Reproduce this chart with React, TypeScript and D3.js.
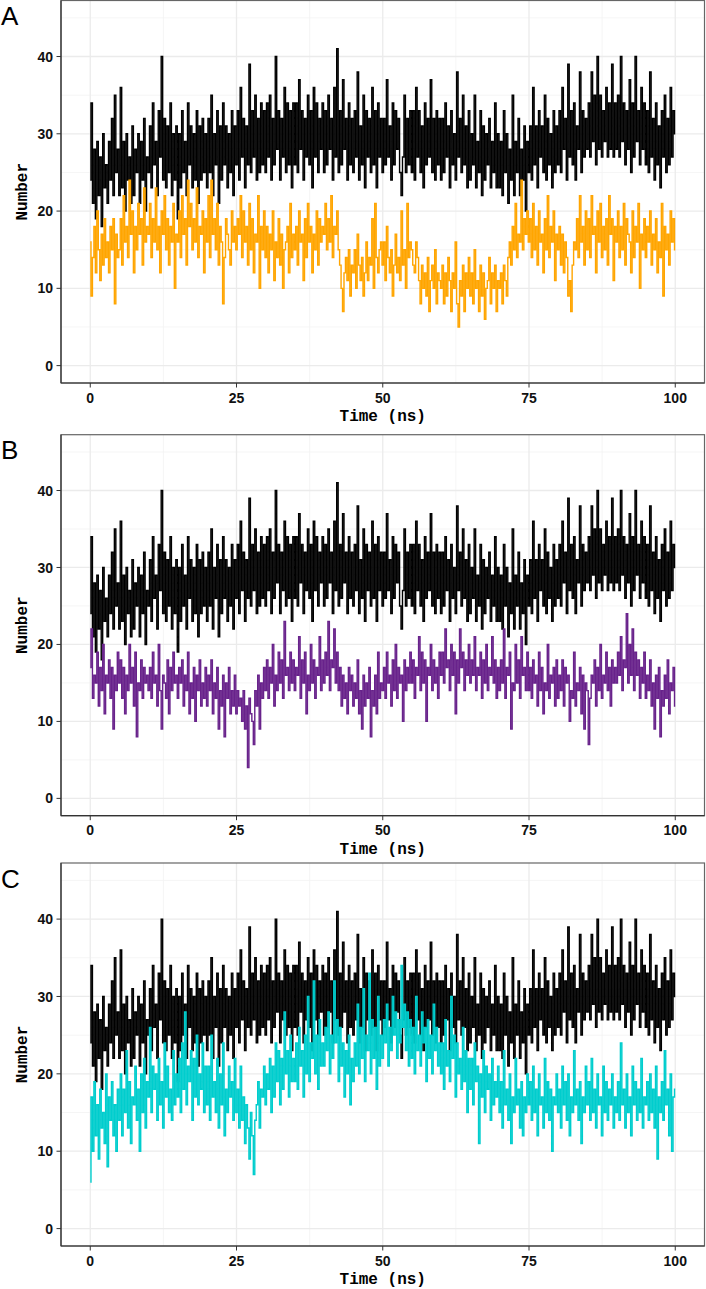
import React from 'react';
import * as d3 from 'd3';

// Time step between successive samples (ns)
const TIME_STEP = 0.25;

// Reference series (shared in all panels), values every 0.25 ns
const BLACK_SERIES = [
  24,34,21,28,19,29,22,27,18,30,23,26,21,29,24,32,22,35,25,28,
  22,36,23,29,20,30,24,27,21,31,22,28,25,30,21,29,24,32,20,27,
  25,31,23,34,26,29,22,33,27,40,24,32,23,31,25,34,22,30,24,31,
  19,30,23,33,25,29,22,34,26,31,23,30,24,33,21,31,24,32,25,30,
  23,32,25,35,22,30,26,33,21,31,24,34,26,31,23,30,25,33,22,31,
  26,33,24,36,27,32,23,31,26,39,25,33,27,35,24,32,25,34,26,33,
  25,34,27,35,24,32,26,40,28,33,24,32,27,36,25,34,26,33,23,34,
  26,34,25,37,28,33,24,32,27,35,26,33,23,36,27,34,25,32,28,34,
  25,33,26,35,28,32,24,36,27,41,25,33,26,37,28,32,24,34,26,32,
  25,33,27,38,24,31,26,35,23,33,27,32,25,36,26,33,23,34,27,32,
  25,32,26,37,27,31,24,34,26,33,28,32,25,22,27,35,25,32,26,33,
  25,33,24,36,27,33,25,31,23,34,26,32,27,37,25,32,24,33,26,32,
  24,32,25,34,27,31,23,33,26,30,24,38,27,32,25,35,26,31,23,33,
  24,30,26,35,23,29,25,33,22,31,24,30,26,32,23,29,25,34,23,30,
  23,29,22,33,25,30,21,28,24,35,22,29,25,32,22,28,24,31,20,29,
  25,31,24,36,26,31,23,33,27,31,25,35,24,32,26,30,23,33,25,31,
  26,33,25,36,28,32,24,39,27,33,26,34,24,31,28,38,25,33,27,32,
  28,34,27,38,29,35,26,40,28,35,27,33,29,36,27,34,28,39,27,34,
  28,35,27,40,29,34,26,33,28,37,25,34,27,40,29,33,26,36,28,34,
  26,33,25,38,27,32,24,34,26,31,23,33,27,35,25,32,26,36,27,33,
  30,
];

// Panel A series (orange)
const ORANGE_SERIES = [
  16,9,14,18,12,20,15,11,17,13,19,14,16,12,18,15,19,8,17,14,
  15,19,13,22,16,18,14,24,17,20,12,18,15,21,17,19,13,23,16,18,
  17,21,14,19,16,23,15,18,12,20,17,22,15,19,13,18,16,21,10,17,
  16,20,14,22,17,19,13,24,18,21,15,19,16,23,14,18,17,20,12,19,
  16,22,14,24,17,19,15,21,13,18,16,8,14,19,17,15,13,20,16,18,
  15,19,17,22,14,20,16,18,13,21,15,19,12,17,16,22,10,18,15,20,
  14,18,12,17,15,20,11,16,14,19,13,17,10,15,16,18,12,21,14,17,
  15,18,13,20,16,17,11,19,14,21,16,18,12,17,15,20,13,19,16,18,
  17,21,15,19,16,22,14,18,17,20,15,13,10,7,12,14,11,15,9,13,
  12,15,10,17,13,11,14,9,12,16,11,14,13,19,10,21,14,12,15,16,
  13,16,11,18,14,12,15,9,13,17,12,14,11,20,13,15,10,21,14,16,
  15,13,12,16,14,11,8,13,10,12,9,14,7,11,13,10,15,8,12,11,
  10,13,8,12,9,14,11,7,12,10,16,8,5,11,9,13,7,12,10,14,
  9,12,8,15,10,11,7,13,9,12,6,10,11,14,8,12,10,13,7,11,
  10,12,8,13,11,9,14,16,13,18,15,21,14,17,16,24,15,19,17,20,
  16,19,14,21,15,18,13,20,16,17,12,19,15,22,14,18,16,20,11,17,
  15,18,13,17,12,16,14,9,11,7,13,16,15,19,14,22,16,18,13,20,
  15,19,14,22,17,18,12,20,16,21,14,18,15,19,13,22,17,19,11,18,
  16,20,14,18,15,21,13,19,17,16,12,20,14,18,16,21,10,17,15,19,
  14,18,16,20,13,17,15,19,12,16,14,21,9,18,15,17,13,20,16,19,
  15,
];

// Panel B series (purple)
const PURPLE_SERIES = [
  17,22,13,16,15,19,12,17,14,20,11,16,15,18,13,17,9,16,14,19,
  15,18,13,17,11,16,14,20,15,17,12,19,8,15,14,18,13,17,15,16,
  14,17,13,19,15,16,12,20,14,9,16,15,13,18,11,17,14,19,15,16,
  13,17,15,18,12,16,14,19,11,15,13,17,10,16,14,18,12,15,13,17,
  12,16,14,18,11,15,13,17,9,14,12,16,8,15,13,17,11,14,12,16,
  11,14,12,13,10,14,9,12,4,13,11,10,7,14,12,16,9,15,13,17,
  14,18,13,17,15,20,12,16,14,19,15,18,13,23,16,17,14,19,15,18,
  14,17,16,21,13,18,15,19,11,16,14,20,15,18,13,17,16,21,14,18,
  15,19,16,23,14,18,17,22,15,19,14,17,12,16,13,15,11,17,14,16,
  12,15,13,18,11,14,9,16,12,15,13,17,8,14,12,16,11,19,13,15,
  14,17,13,19,15,16,12,18,14,20,13,17,15,16,10,18,14,17,15,19,
  15,18,13,17,16,21,14,19,15,18,10,17,16,20,14,18,15,17,13,19,
  16,19,15,22,17,18,14,20,16,19,11,18,15,22,17,19,14,18,16,20,
  15,18,16,21,14,17,16,19,13,18,15,20,14,17,16,21,15,18,13,17,
  14,18,15,22,13,17,16,19,9,15,14,20,15,18,13,21,16,17,14,19,
  14,17,13,18,15,16,12,19,14,17,11,15,14,20,13,16,15,17,12,18,
  13,16,14,18,12,17,15,16,10,14,13,19,12,15,14,17,11,16,9,15,
  14,7,13,16,15,18,12,17,14,20,13,16,15,19,14,17,12,18,15,17,
  15,19,16,21,14,18,17,24,15,20,16,22,14,19,16,18,13,17,15,19,
  13,16,14,18,12,15,9,16,13,17,8,14,12,16,13,18,11,15,14,17,
  12,
];

// Panel C series (cyan)
const CYAN_SERIES = [
  6,17,10,19,12,16,9,18,13,15,11,20,8,17,14,19,12,16,10,18,
  14,20,12,18,15,23,13,19,11,17,16,21,14,18,10,20,15,22,13,19,
  17,26,15,21,18,20,14,22,16,19,13,24,17,21,15,18,14,23,16,20,
  17,22,15,24,18,28,16,21,19,23,14,22,17,25,16,20,18,24,15,21,
  16,21,14,25,17,19,15,22,13,20,16,24,12,18,15,21,17,19,14,22,
  15,18,13,21,14,17,11,16,13,9,15,12,7,14,16,19,13,18,17,21,
  16,20,18,22,15,21,17,24,19,23,16,22,18,28,20,23,17,25,19,22,
  19,24,18,26,21,23,17,25,20,30,19,24,22,32,20,25,18,27,21,24,
  21,26,23,28,20,25,22,32,24,27,19,26,21,24,17,23,20,25,16,22,
  19,24,21,29,20,26,22,31,19,25,23,33,20,27,22,26,18,30,21,25,
  22,27,24,29,21,26,23,30,25,28,22,27,24,34,26,29,23,28,21,27,
  22,26,20,30,23,25,21,28,24,26,19,27,22,25,20,29,23,26,21,24,
  20,24,18,27,21,23,19,30,22,25,17,24,20,22,18,26,19,23,15,22,
  18,22,16,24,19,21,11,20,17,23,15,21,18,20,14,22,16,19,17,21,
  15,19,13,23,16,18,14,20,11,17,15,22,16,18,13,19,12,17,15,20,
  16,19,14,21,15,18,12,20,16,17,13,22,15,19,14,18,10,17,16,20,
  15,18,13,21,16,19,14,20,12,17,15,23,16,18,14,19,11,17,15,21,
  16,19,14,22,15,18,13,20,16,17,12,21,15,19,14,18,16,20,13,17,
  15,19,14,24,16,18,13,20,15,17,12,21,16,19,14,18,15,22,13,17,
  16,19,14,20,15,18,13,21,9,17,15,19,14,23,16,18,12,20,10,17,
  18,
];

const X_TICKS = [0, 25, 50, 75, 100];
const X_MINOR = [12.5, 37.5, 62.5, 87.5];
const Y_TICKS = [0, 10, 20, 30, 40];
const Y_MINOR = [5, 15, 25, 35, 45];
const X_DOMAIN = [-5, 105];
const Y_DOMAIN = [-2.25, 47.25];
const PANEL_LABELS = ['A', 'B', 'C'];
const SERIES_COLORS = ['#FFA500', '#68228B', '#00CDCD'];
const X_TITLE = 'Time (ns)';
const Y_TITLE = 'Number';

const W = 706;
const H = 1289;
const PLOT_LEFT = 61;
const PLOT_RIGHT = 704.5;
const PANEL_BOUNDS = [
  { top: 0.5, bottom: 383 },
  { top: 434.7, bottom: 815.7 },
  { top: 863, bottom: 1246 },
];

const MONO = '"Liberation Mono", "DejaVu Sans Mono", monospace';
const SANS = '"Liberation Sans", Arial, sans-serif';

type Pt = [number, number];

function toPoints(values: number[]): Pt[] {
  return values.map((v, i) => [i * TIME_STEP, v]);
}

function Panel({ idx, series }: { idx: number; series: number[] }) {
  const { top, bottom } = PANEL_BOUNDS[idx];
  const x = d3.scaleLinear().domain(X_DOMAIN).range([PLOT_LEFT, PLOT_RIGHT]);
  const y = d3.scaleLinear().domain(Y_DOMAIN).range([bottom, top]);
  const line = d3
    .line<Pt>()
    .x((d) => x(d[0]))
    .y((d) => y(d[1]))
    .curve(d3.curveStep);
  const blackPath = line(toPoints(BLACK_SERIES)) || '';
  const colorPath = line(toPoints(series)) || '';
  const midY = (top + bottom) / 2;
  const midX = (PLOT_LEFT + PLOT_RIGHT) / 2;
  const clipId = `clip-${idx}`;
  return (
    <g>
      <defs>
        <clipPath id={clipId}>
          <rect x={PLOT_LEFT} y={top} width={PLOT_RIGHT - PLOT_LEFT} height={bottom - top} />
        </clipPath>
      </defs>
      <rect x={PLOT_LEFT} y={top} width={PLOT_RIGHT - PLOT_LEFT} height={bottom - top} fill="#fff" />
      {X_MINOR.map((t) => (
        <line key={'xm' + t} x1={x(t)} x2={x(t)} y1={top} y2={bottom} stroke="#F2F2F2" strokeWidth={0.8} />
      ))}
      {Y_MINOR.map((t) => (
        <line key={'ym' + t} x1={PLOT_LEFT} x2={PLOT_RIGHT} y1={y(t)} y2={y(t)} stroke="#F2F2F2" strokeWidth={0.8} />
      ))}
      {X_TICKS.map((t) => (
        <line key={'xg' + t} x1={x(t)} x2={x(t)} y1={top} y2={bottom} stroke="#EBEBEB" strokeWidth={1.3} />
      ))}
      {Y_TICKS.map((t) => (
        <line key={'yg' + t} x1={PLOT_LEFT} x2={PLOT_RIGHT} y1={y(t)} y2={y(t)} stroke="#EBEBEB" strokeWidth={1.3} />
      ))}
      <g clipPath={`url(#${clipId})`}>
        <path d={blackPath} fill="none" stroke="#000" strokeWidth={1.4} strokeLinejoin="miter" />
        <path d={colorPath} fill="none" stroke={SERIES_COLORS[idx]} strokeWidth={1.4} strokeLinejoin="miter" />
      </g>
      <rect x={PLOT_LEFT} y={top} width={PLOT_RIGHT - PLOT_LEFT} height={bottom - top} fill="none" stroke="#666" strokeWidth={1.2} />
      <line x1={PLOT_LEFT} x2={PLOT_LEFT} y1={top} y2={bottom} stroke="#333" strokeWidth={1.2} />
      <line x1={PLOT_LEFT} x2={PLOT_RIGHT} y1={bottom} y2={bottom} stroke="#333" strokeWidth={1.2} />
      {Y_TICKS.map((t) => (
        <g key={'yt' + t}>
          <line x1={PLOT_LEFT - 4.5} x2={PLOT_LEFT} y1={y(t)} y2={y(t)} stroke="#333" strokeWidth={1} />
          <text x={PLOT_LEFT - 8} y={y(t)} dy="0.36em" textAnchor="end" fontFamily={SANS} fontWeight="bold" fontSize={14} fill="#111">
            {t}
          </text>
        </g>
      ))}
      {X_TICKS.map((t) => (
        <g key={'xt' + t}>
          <line x1={x(t)} x2={x(t)} y1={bottom} y2={bottom + 4.5} stroke="#333" strokeWidth={1} />
          <text x={x(t)} y={bottom + 19.5} textAnchor="middle" fontFamily={SANS} fontWeight="bold" fontSize={14} fill="#111">
            {t}
          </text>
        </g>
      ))}
      <text x={midX} y={bottom + 38} textAnchor="middle" fontFamily={MONO} fontWeight="bold" fontSize={16} fill="#000">
        {X_TITLE}
      </text>
      <text
        transform={`translate(27,${midY}) rotate(-90)`}
        textAnchor="middle"
        fontFamily={MONO}
        fontWeight="bold"
        fontSize={16}
        fill="#000"
      >
        {Y_TITLE}
      </text>
      <text x={1} y={top + 24.5} fontFamily={SANS} fontSize={26} fill="#000">
        {PANEL_LABELS[idx]}
      </text>
    </g>
  );
}

export default function App() {
  const seriesList = [ORANGE_SERIES, PURPLE_SERIES, CYAN_SERIES];
  return (
    <svg
      width={W}
      height={H}
      viewBox={`0 0 ${W} ${H}`}
      style={{ position: 'absolute', left: 0, top: 0, background: '#fff' }}
    >
      <rect width={W} height={H} fill="#fff" />
      {seriesList.map((s, i) => (
        <Panel key={i} idx={i} series={s} />
      ))}
    </svg>
  );
}
